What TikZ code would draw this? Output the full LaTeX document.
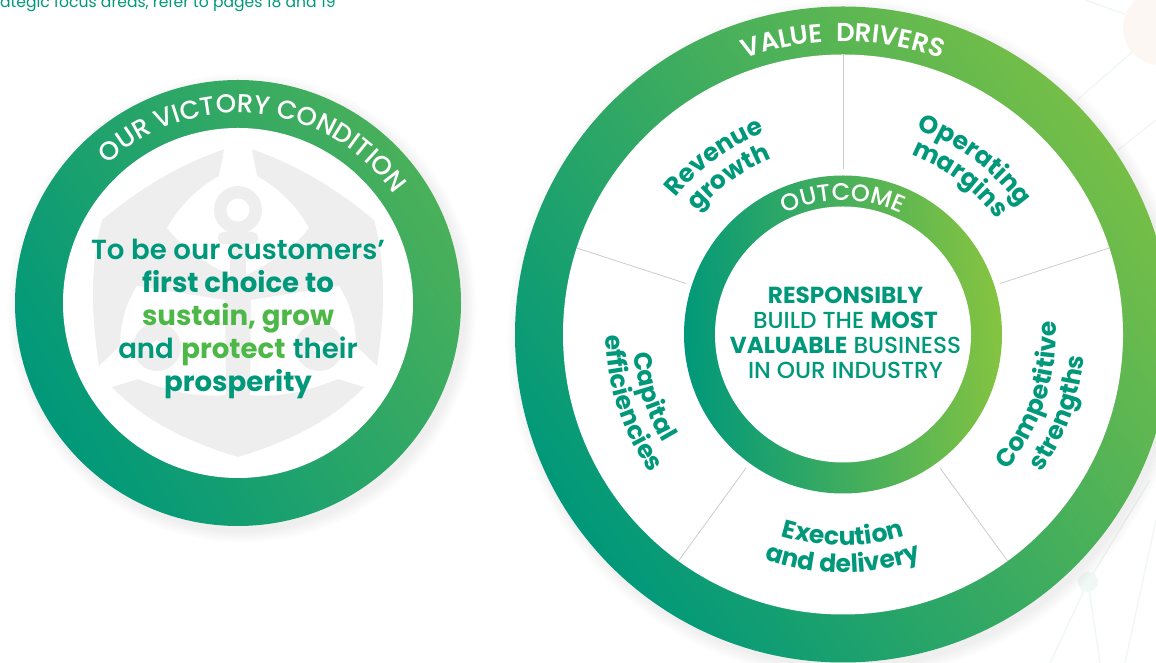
\documentclass[tikz,border=0pt]{standalone}
\usepackage{fontspec}
\setmainfont{Poppins}
\newfontfamily\semifont{Poppins SemiBold}
\newfontfamily\mediumfont{Poppins Medium}
\usetikzlibrary{decorations.text}

\definecolor{ringteal}{HTML}{00987A}
\definecolor{ringgreen}{HTML}{86C440}
\definecolor{ringmid}{HTML}{3AAB65}
\definecolor{brightgreen}{HTML}{4DB848}
\definecolor{logogray}{HTML}{EEEEEE}
\definecolor{bgline}{HTML}{F1F7F4}
\definecolor{bgdot}{HTML}{FDF7F3}

\newcommand{\labelfont}{\bfseries\fontsize{25}{25}\selectfont\color{ringteal}}
\newcommand{\capfont}{\mediumfont\fontsize{26}{26}\selectfont\color{white}}
\newcommand{\ringfont}{\semifont\fontsize{26}{26}\selectfont\color{white}}
\newcommand{\outfont}{\mediumfont\fontsize{24}{24}\selectfont\color{white}}
\newcommand{\arclabel}[6]{\path[shift={(#1)}, decorate, decoration={text along path, text align=center, text={|#6|#5}}] (#2:#4pt) arc[start angle=#2, end angle=#3, radius=#4pt];}

\tikzset{
  disc/.style={circle, inner sep=0pt, outer sep=0pt, minimum size=#1},
  divider/.style={draw=black!20, line width=.8pt},
  bgwire/.style={draw=bgline, line width=1.5pt}
}

\begin{document}
\begin{tikzpicture}[x=1pt, y=1pt]
\useasboundingbox (0,0) rectangle (1156,663);
\clip (0,0) rectangle (1156,663);

\node[disc=74pt, fill=bgdot] (H) at (1160,635) {};
\node[disc=20pt, fill=bgline] (G) at (1088,81) {};
\coordinate (h1) at (1077,563);
\coordinate (w1) at (1156,543);
\coordinate (w2) at (1118,513);
\coordinate (w3) at (1085,663);
\coordinate (w4) at (1125,649);
\coordinate (g1) at (1150,183);
\coordinate (g2) at (1050,0);
\coordinate (g3) at (1100,0);
\coordinate (w5) at (1156,143);
\coordinate (w6) at (1125,0);
\draw[bgwire] (H) -- (h1);
\draw[bgwire] (w1) -- (w2);
\draw[bgwire] (w3) -- (w4);
\draw[bgwire] (G) -- (g1);
\draw[bgwire] (G) -- (g2);
\draw[bgwire] (G) -- (g3);
\draw[bgwire] (w5) -- (w6);

\node[anchor=base west, inner sep=0pt, font=\fontsize{15.6}{15.6}\selectfont, text=ringteal] (note) at (0,655) {ategic focus areas, refer to pages 18 and 19};

\foreach \i in {1,...,8} {
  \fill[black, opacity=.009] (242,355) circle[radius=222pt+\i*1.6pt];
  \fill[black, opacity=.009] (847,323.5) circle[radius=327pt+\i*1.6pt];
}

\node[disc=446pt, left color=ringteal, right color=ringgreen!55!ringteal, shading angle=120] (V) at (238,360) {};
\node[disc=350pt, fill=white] (Vin) at (238,360) {};

\begin{scope}
\clip (238,360) circle[radius=175pt];
\foreach \s in {1,-1} {
  \begin{scope}[shift={(238,663)}, y=-1pt, xscale=\s]
  \fill[logogray] (-13,149) .. controls (-60,165) and (-100,190) .. (-136,220) .. controls (-143,245) and (-145,270) .. (-145,297) .. controls (-145,320) and (-142,345) .. (-139,366) -- (-126,387) .. controls (-95,420) and (-50,442) .. (0,457) -- (0,149) -- cycle;
  \fill[white] (-13,145) -- (-19,176) .. controls (-40,188) and (-58,205) .. (-71,228) .. controls (-55,248) and (-35,262) .. (-8,275) -- (0,275) -- (0,145) -- cycle;
  \fill[white] (-141,368) -- (-118,346) .. controls (-118,325) and (-113,305) .. (-101,286) -- (-13,300) -- (-12,395) .. controls (-43,398) and (-73,390) .. (-100,379) -- (-126,387) -- cycle;
  \fill[logogray] (-81,347) circle[radius=24pt];
  \fill[white] (-81,347) circle[radius=6pt];
  \end{scope}
}
\begin{scope}[shift={(238,663)}, y=-1pt]
\fill[logogray] (0,210) circle[radius=24pt];
\fill[white] (0,210) circle[radius=11.5pt];
\fill[logogray, rounded corners=5pt] (-20,232) rectangle (20,244);
\fill[logogray] (-8,240) rectangle (8,405);
\end{scope}
\end{scope}

\arclabel{238,360}{142}{26}{190}{OUR VICTORY CONDITION}{\capfont}

\node[align=center, inner sep=0pt, text=ringteal, font=\fontsize{27.6}{33}\selectfont] (vision) at (238,344) {{\semifont To be our customers’}\\ \textbf{first choice to}\\ \textcolor{brightgreen}{\textbf{sustain, grow}}\\ {\semifont and} \textcolor{brightgreen}{\textbf{protect}} {\semifont their}\\ \textbf{prosperity}};

\node[disc=656pt, left color=ringteal, right color=ringgreen!88!ringteal, shading angle=125] (D) at (843,328.5) {};
\node[disc=560pt, fill=white] (Din) at (843,328.5) {};
\node[disc=318pt, left color=ringteal, middle color=ringmid, right color=ringgreen, shading angle=95] (O) at (843,328.5) {};
\node[disc=256pt, fill=white] (Oin) at (843,328.5) {};

\foreach \a in {90,18,-54,-126,162} {
  \draw[divider, shorten >=6pt] (Din.\a) -- (O.\a);
}

\arclabel{843,328.5}{130}{50}{293}{VALUE {\ }DRIVERS}{\ringfont}
\arclabel{843,328.5}{150}{30}{134}{OUTCOME}{\outfont}

\arclabel{843,328.5}{156}{96}{216}{Revenue}{\labelfont}
\arclabel{843,328.5}{156}{96}{190}{growth}{\labelfont}
\arclabel{843,328.5}{83}{23}{218}{Operating}{\labelfont}
\arclabel{843,328.5}{83}{23}{192}{margins}{\labelfont}
\arclabel{843,328.5}{-58}{22}{213}{Competitive}{\labelfont}
\arclabel{843,328.5}{-60}{20}{242}{strengths}{\labelfont}
\arclabel{843,328.5}{-125}{-55}{211}{Execution}{\labelfont}
\arclabel{843,328.5}{-125}{-55}{238}{and delivery}{\labelfont}
\arclabel{843,328.5}{158}{238}{210}{Capital}{\labelfont}
\arclabel{843,328.5}{158}{238}{237}{efficiencies}{\labelfont}

\node[align=center, inner sep=0pt, text=ringteal, font=\fontsize{23.2}{25}\selectfont] (goal) at (845.5,330) {\textbf{RESPONSIBLY}\\ {\mediumfont BUILD THE} \textbf{MOST}\\ \textbf{VALUABLE} {\mediumfont BUSINESS}\\ {\mediumfont IN OUR INDUSTRY}};
\end{tikzpicture}
\end{document}
